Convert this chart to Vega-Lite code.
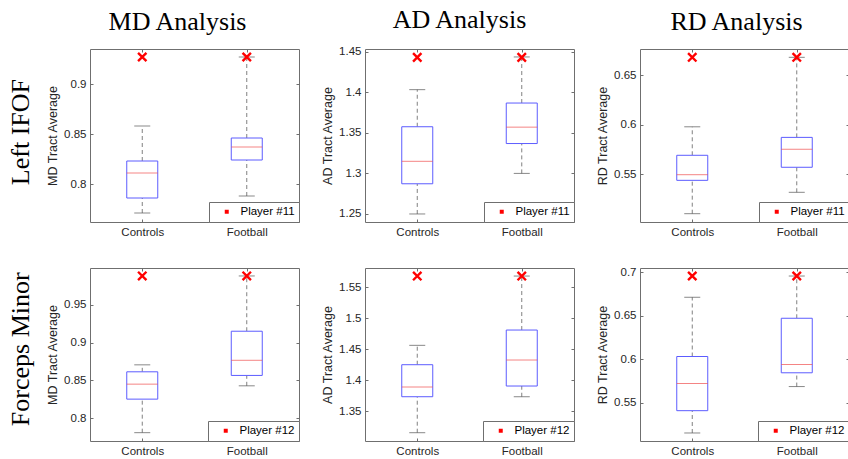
{
"$schema": "https://vega.github.io/schema/vega-lite/v6.json",
"padding": {"left": 8, "top": 6, "right": 0, "bottom": 0},
"config": {
  "view": {"stroke": "#6f6f6f", "strokeWidth": 1},
  "font": "Liberation Sans",
  "axis": {"labelFont": "Liberation Sans", "labelFontSize": 11.5, "labelColor": "#262626", "titleFont": "Liberation Sans", "titleFontSize": 12.5, "titleFontWeight": "normal", "titleColor": "#262626", "domain": false, "tickColor": "#6f6f6f", "tickSize": -3, "labelPadding": 7, "grid": false, "titlePadding": 4},
  "title": {"font": "Liberation Serif", "fontSize": 26, "fontWeight": "normal", "color": "#000000"},
  "legend": {"orient": "bottom-right", "offset": 0, "strokeColor": "#6f6f6f", "fillColor": "white", "padding": 4, "labelFont": "Liberation Sans", "labelFontSize": 11.5, "labelColor": "#000000", "symbolOffset": 8, "labelOffset": 8, "symbolType": "square", "symbolSize": 16, "symbolStrokeWidth": 0}
},
"spacing": 27,
"resolve": {"scale": {"x": "independent", "y": "independent", "color": "independent"}, "legend": {"color": "independent"}},
"vconcat": [
{
 "title": {"text": "Left IFOF", "orient": "left", "anchor": "middle", "offset": 12, "dx": -10},
 "spacing": 21,
 "resolve": {"scale": {"x": "independent", "y": "independent", "color": "independent"}, "legend": {"color": "independent"}},
 "hconcat": [
  {
   "width": 209, "height": 173,
   "title": {"text": "MD Analysis", "dx": -17, "offset": 13},
   "data": {"values": [
    {"group": "Controls", "lower": 0.771, "q1": 0.786, "median": 0.811, "q3": 0.823, "upper": 0.858, "player": 0.927, "label": "Player #11"},
    {"group": "Football", "lower": 0.788, "q1": 0.824, "median": 0.837, "q3": 0.846, "upper": 0.927, "player": 0.927, "label": "Player #11"}
   ]},
   "layer": [
    {"layer": [
     {"mark": {"type": "rule", "strokeDash": [4, 3], "color": "#808080", "strokeWidth": 1},
      "encoding": {"x": {"field": "group", "type": "nominal", "scale": {"type": "point", "padding": 0.5, "domain": ["Controls", "Football"]}, "axis": {"title": null, "labelAngle": 0}},
       "y": {"field": "lower", "type": "quantitative", "scale": {"domain": [0.762, 0.935], "nice": false, "zero": false}, "axis": {"values": [0.8, 0.85, 0.9], "format": "~g", "title": "MD Tract Average"}},
       "y2": {"field": "q1"}}},
     {"mark": {"type": "rule", "strokeDash": [4, 3], "color": "#808080", "strokeWidth": 1},
      "encoding": {"x": {"field": "group", "type": "nominal"}, "y": {"field": "q3", "type": "quantitative"}, "y2": {"field": "upper"}}},
     {"mark": {"type": "bar", "width": 31, "fill": "white", "stroke": "#5c5cff", "strokeWidth": 1},
      "encoding": {"x": {"field": "group", "type": "nominal"}, "y": {"field": "q1", "type": "quantitative"}, "y2": {"field": "q3"}}},
     {"mark": {"type": "tick", "orient": "horizontal", "size": 31, "thickness": 1, "color": "#f05050"},
      "encoding": {"x": {"field": "group", "type": "nominal"}, "y": {"field": "median", "type": "quantitative"}}},
     {"mark": {"type": "tick", "orient": "horizontal", "size": 16, "thickness": 1, "color": "#555555"},
      "encoding": {"x": {"field": "group", "type": "nominal"}, "y": {"field": "lower", "type": "quantitative"}}},
     {"mark": {"type": "tick", "orient": "horizontal", "size": 16, "thickness": 1, "color": "#555555"},
      "encoding": {"x": {"field": "group", "type": "nominal"}, "y": {"field": "upper", "type": "quantitative"}}},
     {"mark": {"type": "point", "shape": "M-1,-1L1,1M-1,1L1,-1", "filled": true, "stroke": "#ff0000", "strokeWidth": 2.4, "size": 70, "opacity": 1},
      "encoding": {"x": {"field": "group", "type": "nominal"}, "y": {"field": "player", "type": "quantitative"},
       "color": {"field": "label", "type": "nominal", "scale": {"range": ["#ff0000"]}, "legend": {"title": null}}}}
    ]},
    {"mark": {"type": "tick", "opacity": 0},
     "encoding": {"x": {"field": "group", "type": "nominal", "axis": {"orient": "top", "labels": false, "title": null}}, "y": {"field": "q1", "type": "quantitative", "scale": {"domain": [0.762, 0.935], "nice": false, "zero": false}, "axis": {"orient": "right", "labels": false, "title": null, "values": [0.8, 0.85, 0.9]}}}}
   ],
   "resolve": {"axis": {"y": "independent", "x": "independent"}}
  },
  {
   "width": 209, "height": 173,
   "title": {"text": "AD Analysis", "dx": -10, "offset": 13},
   "data": {"values": [
    {"group": "Controls", "lower": 1.25, "q1": 1.2872, "median": 1.3149, "q3": 1.3575, "upper": 1.4032, "player": 1.443, "label": "Player #11"},
    {"group": "Football", "lower": 1.30, "q1": 1.3368, "median": 1.357, "q3": 1.3867, "upper": 1.4435, "player": 1.443, "label": "Player #11"}
   ]},
   "layer": [
    {"layer": [
     {"mark": {"type": "rule", "strokeDash": [4, 3], "color": "#808080", "strokeWidth": 1},
      "encoding": {"x": {"field": "group", "type": "nominal", "scale": {"type": "point", "padding": 0.5, "domain": ["Controls", "Football"]}, "axis": {"title": null, "labelAngle": 0}},
       "y": {"field": "lower", "type": "quantitative", "scale": {"domain": [1.2401, 1.4533], "nice": false, "zero": false}, "axis": {"values": [1.25, 1.3, 1.35, 1.4, 1.45], "format": "~g", "title": "AD Tract Average"}},
       "y2": {"field": "q1"}}},
     {"mark": {"type": "rule", "strokeDash": [4, 3], "color": "#808080", "strokeWidth": 1},
      "encoding": {"x": {"field": "group", "type": "nominal"}, "y": {"field": "q3", "type": "quantitative"}, "y2": {"field": "upper"}}},
     {"mark": {"type": "bar", "width": 31, "fill": "white", "stroke": "#5c5cff", "strokeWidth": 1},
      "encoding": {"x": {"field": "group", "type": "nominal"}, "y": {"field": "q1", "type": "quantitative"}, "y2": {"field": "q3"}}},
     {"mark": {"type": "tick", "orient": "horizontal", "size": 31, "thickness": 1, "color": "#f05050"},
      "encoding": {"x": {"field": "group", "type": "nominal"}, "y": {"field": "median", "type": "quantitative"}}},
     {"mark": {"type": "tick", "orient": "horizontal", "size": 16, "thickness": 1, "color": "#555555"},
      "encoding": {"x": {"field": "group", "type": "nominal"}, "y": {"field": "lower", "type": "quantitative"}}},
     {"mark": {"type": "tick", "orient": "horizontal", "size": 16, "thickness": 1, "color": "#555555"},
      "encoding": {"x": {"field": "group", "type": "nominal"}, "y": {"field": "upper", "type": "quantitative"}}},
     {"mark": {"type": "point", "shape": "M-1,-1L1,1M-1,1L1,-1", "filled": true, "stroke": "#ff0000", "strokeWidth": 2.4, "size": 70, "opacity": 1},
      "encoding": {"x": {"field": "group", "type": "nominal"}, "y": {"field": "player", "type": "quantitative"},
       "color": {"field": "label", "type": "nominal", "scale": {"range": ["#ff0000"]}, "legend": {"title": null}}}}
    ]},
    {"mark": {"type": "tick", "opacity": 0},
     "encoding": {"x": {"field": "group", "type": "nominal", "axis": {"orient": "top", "labels": false, "title": null}}, "y": {"field": "q1", "type": "quantitative", "scale": {"domain": [1.2401, 1.4533], "nice": false, "zero": false}, "axis": {"orient": "right", "labels": false, "title": null, "values": [1.25, 1.3, 1.35, 1.4, 1.45]}}}}
   ],
   "resolve": {"axis": {"y": "independent", "x": "independent"}}
  },
  {
   "width": 209, "height": 173,
   "title": {"text": "RD Analysis", "dx": -8, "offset": 13},
   "data": {"values": [
    {"group": "Controls", "lower": 0.5102, "q1": 0.5439, "median": 0.5496, "q3": 0.5692, "upper": 0.598, "player": 0.6682, "label": "Player #11"},
    {"group": "Football", "lower": 0.5318, "q1": 0.5571, "median": 0.5753, "q3": 0.5873, "upper": 0.6682, "player": 0.6682, "label": "Player #11"}
   ]},
   "layer": [
    {"layer": [
     {"mark": {"type": "rule", "strokeDash": [4, 3], "color": "#808080", "strokeWidth": 1},
      "encoding": {"x": {"field": "group", "type": "nominal", "scale": {"type": "point", "padding": 0.5, "domain": ["Controls", "Football"]}, "axis": {"title": null, "labelAngle": 0}},
       "y": {"field": "lower", "type": "quantitative", "scale": {"domain": [0.5018, 0.6766], "nice": false, "zero": false}, "axis": {"values": [0.55, 0.6, 0.65], "format": "~g", "title": "RD Tract Average"}},
       "y2": {"field": "q1"}}},
     {"mark": {"type": "rule", "strokeDash": [4, 3], "color": "#808080", "strokeWidth": 1},
      "encoding": {"x": {"field": "group", "type": "nominal"}, "y": {"field": "q3", "type": "quantitative"}, "y2": {"field": "upper"}}},
     {"mark": {"type": "bar", "width": 31, "fill": "white", "stroke": "#5c5cff", "strokeWidth": 1},
      "encoding": {"x": {"field": "group", "type": "nominal"}, "y": {"field": "q1", "type": "quantitative"}, "y2": {"field": "q3"}}},
     {"mark": {"type": "tick", "orient": "horizontal", "size": 31, "thickness": 1, "color": "#f05050"},
      "encoding": {"x": {"field": "group", "type": "nominal"}, "y": {"field": "median", "type": "quantitative"}}},
     {"mark": {"type": "tick", "orient": "horizontal", "size": 16, "thickness": 1, "color": "#555555"},
      "encoding": {"x": {"field": "group", "type": "nominal"}, "y": {"field": "lower", "type": "quantitative"}}},
     {"mark": {"type": "tick", "orient": "horizontal", "size": 16, "thickness": 1, "color": "#555555"},
      "encoding": {"x": {"field": "group", "type": "nominal"}, "y": {"field": "upper", "type": "quantitative"}}},
     {"mark": {"type": "point", "shape": "M-1,-1L1,1M-1,1L1,-1", "filled": true, "stroke": "#ff0000", "strokeWidth": 2.4, "size": 70, "opacity": 1},
      "encoding": {"x": {"field": "group", "type": "nominal"}, "y": {"field": "player", "type": "quantitative"},
       "color": {"field": "label", "type": "nominal", "scale": {"range": ["#ff0000"]}, "legend": {"title": null}}}}
    ]},
    {"mark": {"type": "tick", "opacity": 0},
     "encoding": {"x": {"field": "group", "type": "nominal", "axis": {"orient": "top", "labels": false, "title": null}}, "y": {"field": "q1", "type": "quantitative", "scale": {"domain": [0.5018, 0.6766], "nice": false, "zero": false}, "axis": {"orient": "right", "labels": false, "title": null, "values": [0.55, 0.6, 0.65]}}}}
   ],
   "resolve": {"axis": {"y": "independent", "x": "independent"}}
  }
 ]
},
{
 "title": {"text": "Forceps Minor", "orient": "left", "anchor": "middle", "offset": 12, "dx": 12},
 "spacing": 21,
 "resolve": {"scale": {"x": "independent", "y": "independent", "color": "independent"}, "legend": {"color": "independent"}},
 "hconcat": [
  {
   "width": 209, "height": 173,
   "data": {"values": [
    {"group": "Controls", "lower": 0.781, "q1": 0.8253, "median": 0.8451, "q3": 0.8614, "upper": 0.8706, "player": 0.988, "label": "Player #12"},
    {"group": "Football", "lower": 0.8429, "q1": 0.8566, "median": 0.8766, "q3": 0.915, "upper": 0.988, "player": 0.988, "label": "Player #12"}
   ]},
   "layer": [
    {"layer": [
     {"mark": {"type": "rule", "strokeDash": [4, 3], "color": "#808080", "strokeWidth": 1},
      "encoding": {"x": {"field": "group", "type": "nominal", "scale": {"type": "point", "padding": 0.5, "domain": ["Controls", "Football"]}, "axis": {"title": null, "labelAngle": 0}},
       "y": {"field": "lower", "type": "quantitative", "scale": {"domain": [0.770, 0.9985], "nice": false, "zero": false}, "axis": {"values": [0.8, 0.85, 0.9, 0.95], "format": "~g", "title": "MD Tract Average"}},
       "y2": {"field": "q1"}}},
     {"mark": {"type": "rule", "strokeDash": [4, 3], "color": "#808080", "strokeWidth": 1},
      "encoding": {"x": {"field": "group", "type": "nominal"}, "y": {"field": "q3", "type": "quantitative"}, "y2": {"field": "upper"}}},
     {"mark": {"type": "bar", "width": 31, "fill": "white", "stroke": "#5c5cff", "strokeWidth": 1},
      "encoding": {"x": {"field": "group", "type": "nominal"}, "y": {"field": "q1", "type": "quantitative"}, "y2": {"field": "q3"}}},
     {"mark": {"type": "tick", "orient": "horizontal", "size": 31, "thickness": 1, "color": "#f05050"},
      "encoding": {"x": {"field": "group", "type": "nominal"}, "y": {"field": "median", "type": "quantitative"}}},
     {"mark": {"type": "tick", "orient": "horizontal", "size": 16, "thickness": 1, "color": "#555555"},
      "encoding": {"x": {"field": "group", "type": "nominal"}, "y": {"field": "lower", "type": "quantitative"}}},
     {"mark": {"type": "tick", "orient": "horizontal", "size": 16, "thickness": 1, "color": "#555555"},
      "encoding": {"x": {"field": "group", "type": "nominal"}, "y": {"field": "upper", "type": "quantitative"}}},
     {"mark": {"type": "point", "shape": "M-1,-1L1,1M-1,1L1,-1", "filled": true, "stroke": "#ff0000", "strokeWidth": 2.4, "size": 70, "opacity": 1},
      "encoding": {"x": {"field": "group", "type": "nominal"}, "y": {"field": "player", "type": "quantitative"},
       "color": {"field": "label", "type": "nominal", "scale": {"range": ["#ff0000"]}, "legend": {"title": null}}}}
    ]},
    {"mark": {"type": "tick", "opacity": 0},
     "encoding": {"x": {"field": "group", "type": "nominal", "axis": {"orient": "top", "labels": false, "title": null}}, "y": {"field": "q1", "type": "quantitative", "scale": {"domain": [0.770, 0.9985], "nice": false, "zero": false}, "axis": {"orient": "right", "labels": false, "title": null, "values": [0.8, 0.85, 0.9, 0.95]}}}}
   ],
   "resolve": {"axis": {"y": "independent", "x": "independent"}}
  },
  {
   "width": 209, "height": 173,
   "data": {"values": [
    {"group": "Controls", "lower": 1.3154, "q1": 1.3735, "median": 1.3892, "q3": 1.4252, "upper": 1.4565, "player": 1.5684, "label": "Player #12"},
    {"group": "Football", "lower": 1.3735, "q1": 1.3908, "median": 1.4328, "q3": 1.4812, "upper": 1.5684, "player": 1.5684, "label": "Player #12"}
   ]},
   "layer": [
    {"layer": [
     {"mark": {"type": "rule", "strokeDash": [4, 3], "color": "#808080", "strokeWidth": 1},
      "encoding": {"x": {"field": "group", "type": "nominal", "scale": {"type": "point", "padding": 0.5, "domain": ["Controls", "Football"]}, "axis": {"title": null, "labelAngle": 0}},
       "y": {"field": "lower", "type": "quantitative", "scale": {"domain": [1.302, 1.5814], "nice": false, "zero": false}, "axis": {"values": [1.35, 1.4, 1.45, 1.5, 1.55], "format": "~g", "title": "AD Tract Average"}},
       "y2": {"field": "q1"}}},
     {"mark": {"type": "rule", "strokeDash": [4, 3], "color": "#808080", "strokeWidth": 1},
      "encoding": {"x": {"field": "group", "type": "nominal"}, "y": {"field": "q3", "type": "quantitative"}, "y2": {"field": "upper"}}},
     {"mark": {"type": "bar", "width": 31, "fill": "white", "stroke": "#5c5cff", "strokeWidth": 1},
      "encoding": {"x": {"field": "group", "type": "nominal"}, "y": {"field": "q1", "type": "quantitative"}, "y2": {"field": "q3"}}},
     {"mark": {"type": "tick", "orient": "horizontal", "size": 31, "thickness": 1, "color": "#f05050"},
      "encoding": {"x": {"field": "group", "type": "nominal"}, "y": {"field": "median", "type": "quantitative"}}},
     {"mark": {"type": "tick", "orient": "horizontal", "size": 16, "thickness": 1, "color": "#555555"},
      "encoding": {"x": {"field": "group", "type": "nominal"}, "y": {"field": "lower", "type": "quantitative"}}},
     {"mark": {"type": "tick", "orient": "horizontal", "size": 16, "thickness": 1, "color": "#555555"},
      "encoding": {"x": {"field": "group", "type": "nominal"}, "y": {"field": "upper", "type": "quantitative"}}},
     {"mark": {"type": "point", "shape": "M-1,-1L1,1M-1,1L1,-1", "filled": true, "stroke": "#ff0000", "strokeWidth": 2.4, "size": 70, "opacity": 1},
      "encoding": {"x": {"field": "group", "type": "nominal"}, "y": {"field": "player", "type": "quantitative"},
       "color": {"field": "label", "type": "nominal", "scale": {"range": ["#ff0000"]}, "legend": {"title": null}}}}
    ]},
    {"mark": {"type": "tick", "opacity": 0},
     "encoding": {"x": {"field": "group", "type": "nominal", "axis": {"orient": "top", "labels": false, "title": null}}, "y": {"field": "q1", "type": "quantitative", "scale": {"domain": [1.302, 1.5814], "nice": false, "zero": false}, "axis": {"orient": "right", "labels": false, "title": null, "values": [1.35, 1.4, 1.45, 1.5, 1.55]}}}}
   ],
   "resolve": {"axis": {"y": "independent", "x": "independent"}}
  },
  {
   "width": 209, "height": 173,
   "data": {"values": [
    {"group": "Controls", "lower": 0.5152, "q1": 0.5408, "median": 0.572, "q3": 0.603, "upper": 0.671, "player": 0.6954, "label": "Player #12"},
    {"group": "Football", "lower": 0.5685, "q1": 0.5843, "median": 0.5938, "q3": 0.6469, "upper": 0.6954, "player": 0.6954, "label": "Player #12"}
   ]},
   "layer": [
    {"layer": [
     {"mark": {"type": "rule", "strokeDash": [4, 3], "color": "#808080", "strokeWidth": 1},
      "encoding": {"x": {"field": "group", "type": "nominal", "scale": {"type": "point", "padding": 0.5, "domain": ["Controls", "Football"]}, "axis": {"title": null, "labelAngle": 0}},
       "y": {"field": "lower", "type": "quantitative", "scale": {"domain": [0.506, 0.7046], "nice": false, "zero": false}, "axis": {"values": [0.55, 0.6, 0.65, 0.7], "format": "~g", "title": "RD Tract Average"}},
       "y2": {"field": "q1"}}},
     {"mark": {"type": "rule", "strokeDash": [4, 3], "color": "#808080", "strokeWidth": 1},
      "encoding": {"x": {"field": "group", "type": "nominal"}, "y": {"field": "q3", "type": "quantitative"}, "y2": {"field": "upper"}}},
     {"mark": {"type": "bar", "width": 31, "fill": "white", "stroke": "#5c5cff", "strokeWidth": 1},
      "encoding": {"x": {"field": "group", "type": "nominal"}, "y": {"field": "q1", "type": "quantitative"}, "y2": {"field": "q3"}}},
     {"mark": {"type": "tick", "orient": "horizontal", "size": 31, "thickness": 1, "color": "#f05050"},
      "encoding": {"x": {"field": "group", "type": "nominal"}, "y": {"field": "median", "type": "quantitative"}}},
     {"mark": {"type": "tick", "orient": "horizontal", "size": 16, "thickness": 1, "color": "#555555"},
      "encoding": {"x": {"field": "group", "type": "nominal"}, "y": {"field": "lower", "type": "quantitative"}}},
     {"mark": {"type": "tick", "orient": "horizontal", "size": 16, "thickness": 1, "color": "#555555"},
      "encoding": {"x": {"field": "group", "type": "nominal"}, "y": {"field": "upper", "type": "quantitative"}}},
     {"mark": {"type": "point", "shape": "M-1,-1L1,1M-1,1L1,-1", "filled": true, "stroke": "#ff0000", "strokeWidth": 2.4, "size": 70, "opacity": 1},
      "encoding": {"x": {"field": "group", "type": "nominal"}, "y": {"field": "player", "type": "quantitative"},
       "color": {"field": "label", "type": "nominal", "scale": {"range": ["#ff0000"]}, "legend": {"title": null}}}}
    ]},
    {"mark": {"type": "tick", "opacity": 0},
     "encoding": {"x": {"field": "group", "type": "nominal", "axis": {"orient": "top", "labels": false, "title": null}}, "y": {"field": "q1", "type": "quantitative", "scale": {"domain": [0.506, 0.7046], "nice": false, "zero": false}, "axis": {"orient": "right", "labels": false, "title": null, "values": [0.55, 0.6, 0.65, 0.7]}}}}
   ],
   "resolve": {"axis": {"y": "independent", "x": "independent"}}
  }
 ]
}
]
}
